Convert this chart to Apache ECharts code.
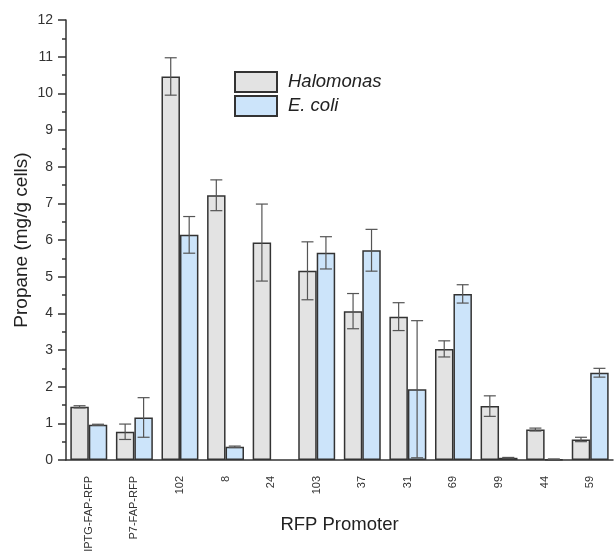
<!DOCTYPE html>
<html>
<head>
<meta charset="utf-8">
<script src="https://cdn.jsdelivr.net/npm/echarts@6/dist/echarts.min.js"></script>
<style>
  html, body { margin: 0; padding: 0; background: #fff; }
  #chart { width: 614px; height: 553px; }
</style>
</head>
<body>
<div id="chart"></div>
<script>
// promoters on the x axis
const promoters = ['IPTG-FAP-RFP', 'P7-FAP-RFP', '102', '8', '24', '103', '37', '31', '69', '99', '44', '59'];
// propane, mg/g cells
const halomonas = [1.45, 0.77, 10.46, 7.22, 5.93, 5.16, 4.06, 3.91, 3.03, 1.47, 0.83, 0.56];
const halomonasErr = [0.03, 0.21, 0.51, 0.42, 1.05, 0.79, 0.48, 0.38, 0.22, 0.28, 0.04, 0.06];
const ecoli = [0.96, 1.16, 6.14, 0.36, null, 5.65, 5.72, 1.93, 4.53, 0.06, 0.02, 2.38];
const ecoliErr = [0.015, 0.54, 0.5, 0.02, null, 0.44, 0.57, 1.87, 0.25, 0.01, 0.01, 0.12];
const yTicks = [0, 12, 1]; // min, max, interval

const chart = echarts.init(document.getElementById('chart'));
const fontFam = '"Liberation Sans", Arial, sans-serif';
const groupFrac = 0.81; // bar group width / category width

function errData(vals, errs) {
    return vals.map((v, i) => (v == null || errs[i] == null) ? null : [i, v, errs[i]]);
}

function errSeries(name, vals, errs, side) {
    return {
        type: 'custom',
        name: name + ' err',
        silent: true,
        z: 5,
        data: errData(vals, errs).filter(d => d),
        renderItem: function (params, api) {
            const i = api.value(0), v = api.value(1), e = api.value(2);
            const catW = api.size([1, 0])[0];
            const barW = catW * groupFrac / 2;
            const x = api.coord([i, v])[0] + side * barW / 2;
            const yT = api.coord([i, v + e])[1];
            const yB = api.coord([i, Math.max(v - e, 0)])[1];
            const cap = 6;
            const st = { stroke: '#555', lineWidth: 1.2 };
            return {
                type: 'group',
                children: [
                    { type: 'line', shape: { x1: x, y1: yT, x2: x, y2: yB }, style: st },
                    { type: 'line', shape: { x1: x - cap, y1: yT, x2: x + cap, y2: yT }, style: st },
                    { type: 'line', shape: { x1: x - cap, y1: yB, x2: x + cap, y2: yB }, style: st }
                ]
            };
        }
    };
}

const option = {
    animation: false,
    backgroundColor: '#fff',
    textStyle: { fontFamily: fontFam },
    grid: { left: 66, top: 20, right: 1, bottom: 93, outerBoundsMode: 'none' },
    legend: {
        data: ['Halomonas', 'E. coli'],
        orient: 'vertical',
        left: 234,
        top: 71,
        padding: 0,
        itemWidth: 42,
        itemHeight: 20,
        itemGap: 2,
        icon: 'rect',
        textStyle: { fontSize: 18.5, fontStyle: 'italic', color: '#222', padding: [0, 0, 0, 6] }
    },
    xAxis: {
        type: 'category',
        data: promoters,
        name: 'RFP Promoter',
        nameLocation: 'middle',
        nameGap: 55,
        nameMoveOverlap: false,
        nameTextStyle: { fontSize: 18.5, color: '#222' },
        axisLine: { lineStyle: { color: '#333', width: 1.5 } },
        axisTick: { alignWithLabel: true, length: 7, lineStyle: { color: '#333', width: 1.5 } },
        axisLabel: { rotate: 90, interval: 0, fontSize: 11, color: '#333', margin: 16 }
    },
    yAxis: {
        type: 'value',
        min: yTicks[0],
        max: yTicks[1],
        interval: yTicks[2],
        name: 'Propane (mg/g cells)',
        nameLocation: 'middle',
        nameGap: 35,
        nameMoveOverlap: false,
        nameTextStyle: { fontSize: 19, color: '#222' },
        splitLine: { show: false },
        axisLine: { show: true, lineStyle: { color: '#333', width: 1.5 } },
        axisTick: { show: true, length: 8, lineStyle: { color: '#333', width: 1.5 } },
        minorTick: { show: true, splitNumber: 2, length: 4, lineStyle: { color: '#333', width: 1.5 } },
        axisLabel: { fontSize: 14, color: '#333', margin: 13 }
    },
    series: [
        {
            name: 'Halomonas',
            type: 'bar',
            data: halomonas,
            barGap: '0%',
            barCategoryGap: '19%',
            itemStyle: { color: '#e3e3e3', borderColor: '#333', borderWidth: 1.5 }
        },
        {
            name: 'E. coli',
            type: 'bar',
            data: ecoli,
            barGap: '0%',
            barCategoryGap: '19%',
            itemStyle: { color: '#cce4fa', borderColor: '#333', borderWidth: 1.5 }
        },
        errSeries('Halomonas', halomonas, halomonasErr, -1),
        errSeries('E. coli', ecoli, ecoliErr, 1)
    ]
};

chart.setOption(option);
</script>
</body>
</html>
